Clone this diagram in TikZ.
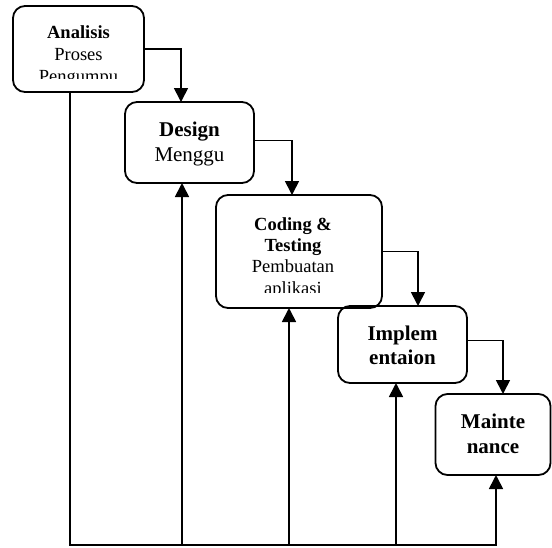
\documentclass[tikz,border=0pt]{standalone}
\usepackage{fontspec}
\setmainfont{Liberation Serif}
\usetikzlibrary{arrows.meta}
\begin{document}
\begin{tikzpicture}[x=1pt,y=-1pt,
  stage/.style={draw=black,line width=1.8pt,rounded corners=12pt,inner sep=0pt,outer sep=0pt},
  conn/.style={draw=black,line width=1.7pt,-{Triangle[width=14pt,length=14pt]}},
  lbl/.style={anchor=base,inner sep=0pt},
  small/.style={font=\fontsize{18.5}{22}\selectfont},
  big/.style={font=\fontsize{21}{25}\selectfont}]
\useasboundingbox (0,0) rectangle (552,547);

% stage boxes
\node[stage,minimum width=131pt,minimum height=86pt] (b1) at (78.5,49) {};
\node[stage,minimum width=129pt,minimum height=81pt] (b2) at (189.5,142.5) {};
\node[stage,minimum width=166pt,minimum height=113pt] (b3) at (299,251.5) {};
\node[stage,minimum width=129pt,minimum height=77pt] (b4) at (402.5,344.5) {};
\node[stage,minimum width=115pt,minimum height=81pt] (b5) at (493,434.5) {};

% labels (text frames clip their overflow)
\begin{scope}
  \clip (13,6) rectangle (144,78);
  \node[lbl,small] (t1a) at (78.5,38) {\bfseries Analisis};
  \node[lbl,small] (t1b) at (78.5,60) {Proses};
  \node[lbl,small] (t1c) at (78.5,82) {Pengumpu};
\end{scope}
\node[lbl,big] (t2a) at (189.5,136) {\bfseries Design};
\node[lbl,big] (t2b) at (189.5,161) {Menggu};
\begin{scope}
  \clip (216,195) rectangle (382,292);
  \node[lbl,small] (t3a) at (293,230) {\bfseries Coding \&};
  \node[lbl,small] (t3b) at (293,251) {\bfseries Testing};
  \node[lbl,small] (t3c) at (293,272) {Pembuatan};
  \node[lbl,small] (t3d) at (293,294) {aplikasi};
\end{scope}
\node[lbl,big] (t4a) at (402.5,340) {\bfseries Implem};
\node[lbl,big] (t4b) at (402.5,364) {\bfseries entaion};
\node[lbl,big] (t5a) at (493,428) {\bfseries Mainte};
\node[lbl,big] (t5b) at (493,453) {\bfseries nance};

% forward flow
\draw[conn] (b1.east) -| (b2.north -| 181,0);
\draw[conn] ([yshift=2pt]b2.east) -| (b3.north -| 292,0);
\draw[conn] (b3.east) -| (b4.north -| 418,0);
\draw[conn] ([yshift=4pt]b4.east) -| (b5.north -| 503,0);

% feedback paths
\coordinate (fb) at (70,545);
\draw[conn] (b1.south -| fb) -- (fb) -| (b5.south -| 496,0);
\draw[conn] (fb -| 182,0) -- (b2.south -| 182,0);
\draw[conn] (fb -| 289,0) -- (b3.south -| 289,0);
\draw[conn] (fb -| 396,0) -- (b4.south -| 396,0);
\end{tikzpicture}
\end{document}
